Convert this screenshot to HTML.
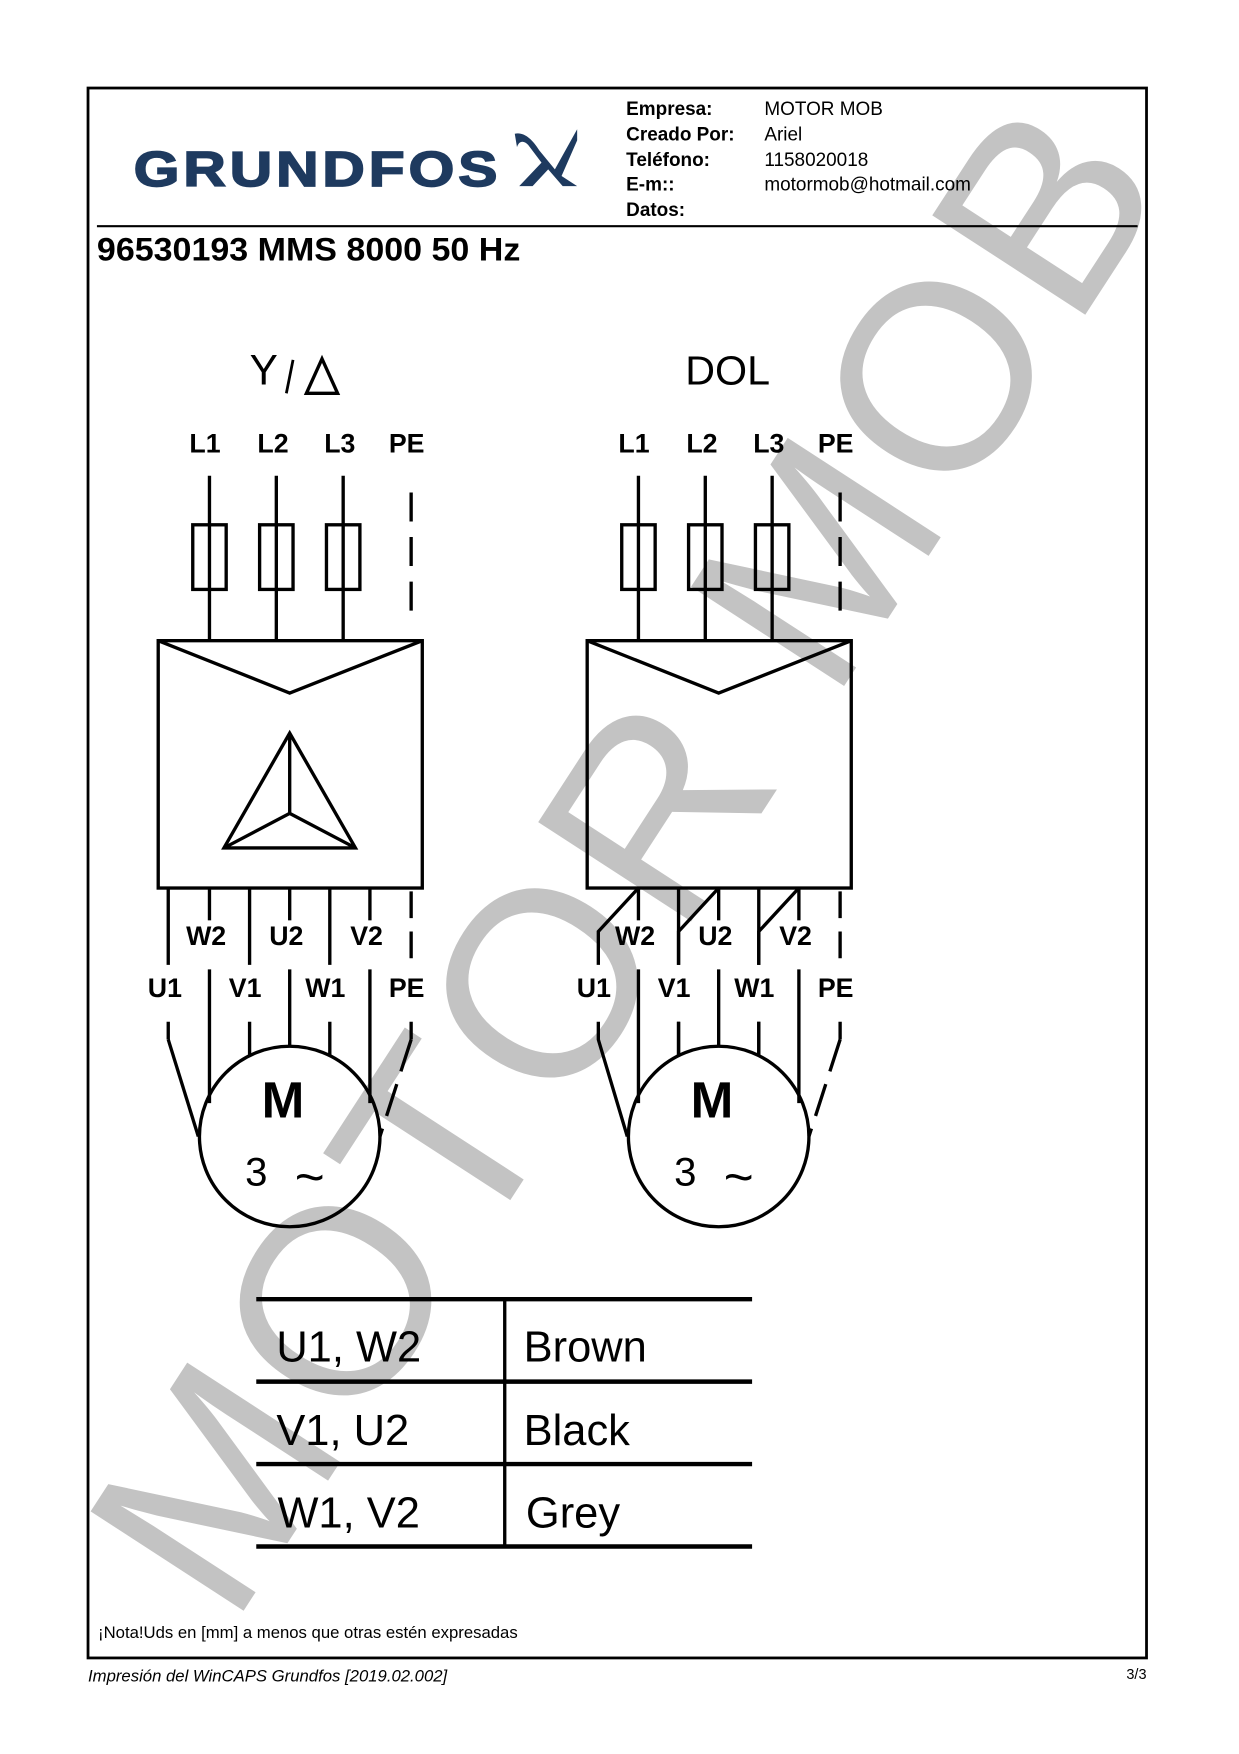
<!DOCTYPE html>
<html><head><meta charset="utf-8"><style>
html,body{margin:0;padding:0;background:#fff;}
svg{display:block;}
text{font-family:"Liberation Sans",Arial,sans-serif;}
</style></head><body>
<svg width="1239" height="1754" viewBox="0 0 1112 1574.2" xmlns="http://www.w3.org/2000/svg">
<!-- watermark -->
<text x="0" y="0" transform="translate(208,1462) rotate(-57)" font-size="238" letter-spacing="7" fill="#c3c3c3">MOTOR MOB</text>

<g fill="none" stroke="#000">
<rect x="79" y="79" width="950" height="1409" stroke-width="2.5"/>
<line x1="87" y1="203" x2="1021" y2="203" stroke-width="2"/>
</g>

<!-- logo -->
<text x="120" y="167" font-size="44" font-weight="bold" fill="#1e3a5f" letter-spacing="3" textLength="330" lengthAdjust="spacingAndGlyphs" stroke="#1e3a5f" stroke-width="1.5">GRUNDFOS</text>
<g fill="#1e3a5f">
<path d="M462 120 C470 118 478 125 484 135 L498 152 L518 116 L518 126 L504 158 L518 167 L505 167 L492 152 L478 167 L466 167 L486 146 L474 130 C470 126 466 126 464 132 Z"/>
</g>

<g font-size="17" font-weight="bold" fill="#000">
<text x="562" y="103">Empresa:</text>
<text x="562" y="126">Creado Por:</text>
<text x="562" y="149">Teléfono:</text>
<text x="562" y="171">E-m::</text>
<text x="562" y="194">Datos:</text>
</g>
<g font-size="17" fill="#000">
<text x="686" y="103">MOTOR MOB</text>
<text x="686" y="126">Ariel</text>
<text x="686" y="149">1158020018</text>
<text x="686" y="171">motormob@hotmail.com</text>
</g>
<text x="87" y="234" font-size="29" font-weight="bold" textLength="380" lengthAdjust="spacingAndGlyphs">96530193 MMS 8000 50 Hz</text>

<text x="224" y="345" font-size="38">Y</text>
<line x1="257" y1="353" x2="263" y2="323" stroke="#000" stroke-width="2.5"/>
<path d="M275 353 L289 322 L303 353 Z" fill="none" stroke="#000" stroke-width="3"/>
<text x="615" y="345" font-size="37">DOL</text>

<!-- diagrams -->
<g id="d">
<g font-size="24" font-weight="bold" text-anchor="middle">
<text x="184" y="406">L1</text><text x="245" y="406">L2</text><text x="305" y="406">L3</text><text x="365" y="406">PE</text>
</g>
<g stroke="#000" stroke-width="3" fill="none">
<line x1="188" y1="427" x2="188" y2="575"/>
<line x1="248" y1="427" x2="248" y2="575"/>
<line x1="308" y1="427" x2="308" y2="575"/>
<line x1="369" y1="442" x2="369" y2="560" stroke-dasharray="26,14"/>
<rect x="173" y="471" width="30" height="58"/>
<rect x="233" y="471" width="30" height="58"/>
<rect x="293" y="471" width="30" height="58"/>
<rect x="142" y="575" width="237" height="222"/>
<path d="M142 575 L260 622 L379 575"/>
<line x1="188" y1="797" x2="188" y2="826"/><line x1="188" y1="870" x2="188" y2="990"/>
<line x1="260" y1="797" x2="260" y2="826"/><line x1="260" y1="870" x2="260" y2="940"/>
<line x1="332" y1="797" x2="332" y2="826"/><line x1="332" y1="870" x2="332" y2="990"/>
<line x1="224" y1="797" x2="224" y2="866"/><line x1="224" y1="917" x2="224" y2="948"/>
<line x1="296" y1="797" x2="296" y2="866"/><line x1="296" y1="917" x2="296" y2="948"/>
<line x1="369" y1="800" x2="369" y2="866" stroke-dasharray="24,12"/>
<line x1="369" y1="917" x2="369" y2="933"/>
<path d="M369 933 L341 1020" stroke-dasharray="30,12"/>
<circle cx="260" cy="1020" r="81"/>
</g>
<g font-size="24" font-weight="bold" text-anchor="middle">
<text x="185" y="848">W2</text><text x="257" y="848">U2</text><text x="329" y="848">V2</text>
<text x="148" y="895">U1</text><text x="220" y="895">V1</text><text x="292" y="895">W1</text><text x="365" y="895">PE</text>
</g>
<text x="254" y="1003" font-size="46" font-weight="bold" text-anchor="middle">M</text>
<text x="230" y="1064" font-size="36" text-anchor="middle">3</text>
<text x="278" y="1072" font-size="46" text-anchor="middle">~</text>
</g>
<g stroke="#000" stroke-width="3" fill="none">
<line x1="151" y1="797" x2="151" y2="866"/><line x1="151" y1="917" x2="151" y2="933"/>
<path d="M151 933 L178 1020"/>
<path d="M201 761 L260 658 L319 761 Z M260 658 L260 730 L201 761 M260 730 L319 761"/>
</g>
<use href="#d" x="385" y="0"/>
<g stroke="#000" stroke-width="3" fill="none">
<path d="M573 797 L537 836 L537 866 M537 917 L537 933 L563 1020"/>
<path d="M645 797 L609 836 L609 866 M609 917 L609 948"/>
<path d="M717 797 L681 836 L681 866 M681 917 L681 948"/>
</g>

<!-- table -->
<g stroke="#000" fill="none">
<line x1="230" y1="1166" x2="675" y2="1166" stroke-width="4"/>
<line x1="230" y1="1240" x2="675" y2="1240" stroke-width="4"/>
<line x1="230" y1="1314" x2="675" y2="1314" stroke-width="4"/>
<line x1="230" y1="1388" x2="675" y2="1388" stroke-width="4"/>
<line x1="453" y1="1166" x2="453" y2="1388" stroke-width="3"/>
</g>
<g font-size="39">
<text x="248" y="1222">U1, W2</text><text x="470" y="1222">Brown</text>
<text x="248" y="1297">V1, U2</text><text x="470" y="1297">Black</text>
<text x="249" y="1371">W1, V2</text><text x="472" y="1371">Grey</text>
</g>
<text x="88" y="1470" font-size="15">¡Nota!Uds en [mm] a menos que otras estén expresadas</text>
<text x="79" y="1509" font-size="15" font-style="italic">Impresión del WinCAPS Grundfos [2019.02.002]</text>
<text x="1029" y="1507" font-size="13" text-anchor="end">3/3</text>
</svg>
</body></html>
